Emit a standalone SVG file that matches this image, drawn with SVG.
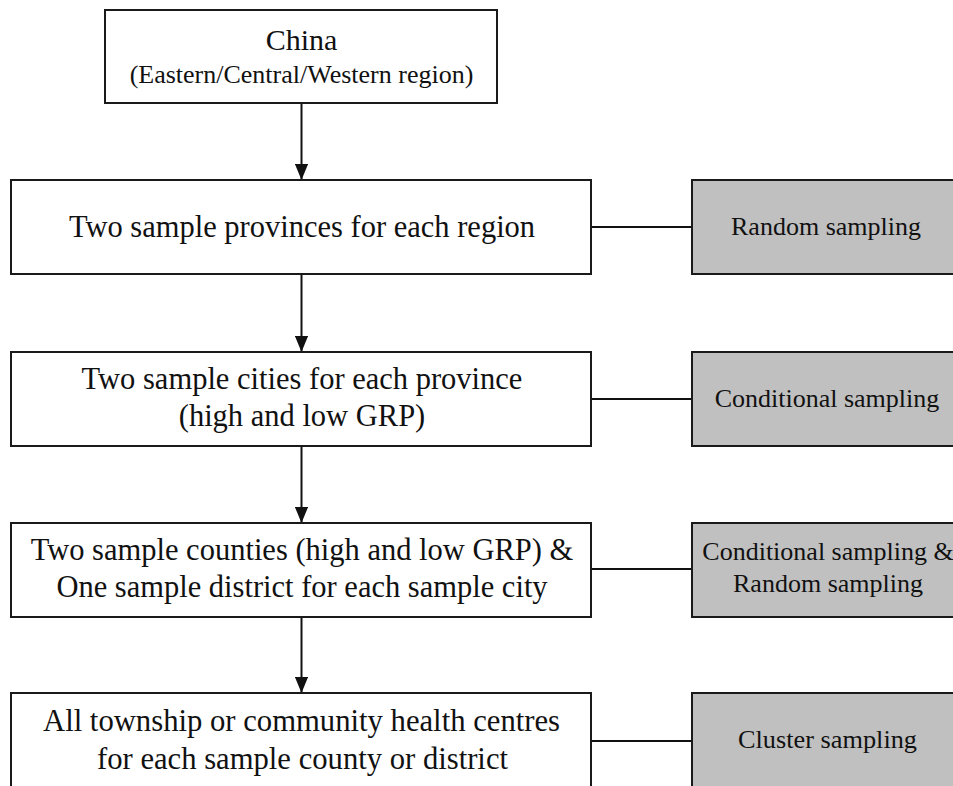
<svg xmlns="http://www.w3.org/2000/svg" width="953" height="786" viewBox="0 0 953 786">
<style>
.box{fill:#fff;stroke:#1a1a1a;stroke-width:2}
.gbox{fill:#c0c0c0;stroke:#1a1a1a;stroke-width:2}
.t{font-family:"Liberation Serif","Times New Roman",serif;fill:#111;text-anchor:middle}
.m{font-size:30.5px}
.s{font-size:26px}
.g{font-size:26px}
.ln{stroke:#111;stroke-width:2;fill:none}
</style>
<defs>
<marker id="ah" markerWidth="8" markerHeight="6.6" refX="7.5" refY="3.3" orient="auto" markerUnits="strokeWidth">
<path d="M0,0 L8,3.3 L0,6.6 Z" fill="#111"/>
</marker>
</defs>
<rect width="953" height="786" fill="#fff"/>
<g id="connectors">
<line class="ln" x1="301.5" y1="103" x2="301.5" y2="179" marker-end="url(#ah)"/>
<line class="ln" x1="301.5" y1="274" x2="301.5" y2="351" marker-end="url(#ah)"/>
<line class="ln" x1="301.5" y1="446" x2="301.5" y2="522" marker-end="url(#ah)"/>
<line class="ln" x1="301.5" y1="617" x2="301.5" y2="692" marker-end="url(#ah)"/>
<line class="ln" x1="591" y1="227" x2="692" y2="227"/>
<line class="ln" x1="591" y1="399" x2="692" y2="399"/>
<line class="ln" x1="591" y1="569" x2="692" y2="569"/>
<line class="ln" x1="591" y1="741" x2="692" y2="741"/>
</g>
<g id="china">
<rect class="box" x="105" y="10" width="392" height="93"/>
<text class="t m" x="301.5" y="50" style="font-size:30px">China</text>
<text class="t s" x="301.5" y="83">(Eastern/Central/Western region)</text>
</g>
<g id="provinces">
<rect class="box" x="11" y="180" width="580" height="94"/>
<text class="t m" x="302" y="237">Two sample provinces for each region</text>
</g>
<g id="cities">
<rect class="box" x="11" y="352" width="580" height="94"/>
<text class="t m" x="302" y="389">Two sample cities for each province</text>
<text class="t m" x="302" y="426">(high and low GRP)</text>
</g>
<g id="counties">
<rect class="box" x="11" y="523" width="580" height="94"/>
<text class="t m" x="302" y="560">Two sample counties (high and low GRP) &amp;</text>
<text class="t m" x="302" y="597">One sample district for each sample city</text>
</g>
<g id="centres">
<rect class="box" x="11" y="693" width="580" height="100"/>
<text class="t m" x="301.5" y="731" textLength="517" lengthAdjust="spacingAndGlyphs">All township or community health centres</text>
<text class="t m" x="302.5" y="769" textLength="411" lengthAdjust="spacingAndGlyphs">for each sample county or district</text>
</g>
<g id="random">
<rect class="gbox" x="692" y="180" width="280" height="94"/>
<text class="t g" x="826" y="235">Random sampling</text>
</g>
<g id="conditional">
<rect class="gbox" x="692" y="352" width="280" height="94"/>
<text class="t g" x="827" y="407">Conditional sampling</text>
</g>
<g id="condrandom">
<rect class="gbox" x="692" y="523" width="280" height="94"/>
<text class="t g" x="828" y="560">Conditional sampling &amp;</text>
<text class="t g" x="828" y="592">Random sampling</text>
</g>
<g id="cluster">
<rect class="gbox" x="692" y="693" width="280" height="100"/>
<text class="t g" x="827.5" y="748" textLength="179" lengthAdjust="spacingAndGlyphs">Cluster sampling</text>
</g>
</svg>
